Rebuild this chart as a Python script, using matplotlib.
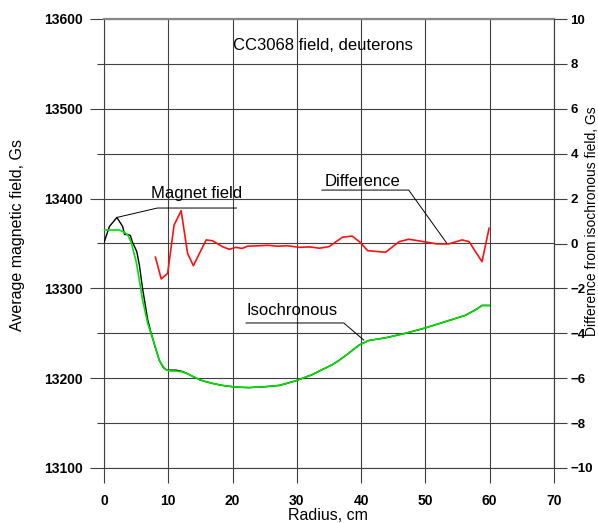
import matplotlib
matplotlib.use("Agg")
import matplotlib.pyplot as plt
from matplotlib.ticker import MultipleLocator

plt.rcParams['font.family'] = ['Liberation Sans', 'DejaVu Sans']

# ---- data ----
r_mag = [0, 0.85, 2.0, 2.9, 3.2, 3.7, 4.1, 4.4, 5.1, 5.5, 6.0, 6.8, 7.3, 8.0, 8.6, 9.2,
         9.75, 10.5, 11.2, 12.2, 13.0, 13.8, 15.0, 15.9, 17.0, 18.4, 20.0, 21.0, 22.5,
         23.6, 25.0, 27.3, 29.8, 32.4, 33.5, 35.5, 36.6, 38.1, 39.7, 41.2, 43.8, 46.9,
         50.0, 53.1, 56.2, 58.0, 58.8, 59.9]
B_mag = [13351, 13369, 13379, 13369, 13360, 13360, 13359, 13352, 13341, 13326, 13300,
         13265, 13251, 13234, 13220, 13212, 13209, 13209, 13209, 13207.5, 13205, 13202,
         13198, 13196, 13194, 13192, 13190.5, 13190, 13189.5, 13190, 13190.5, 13192,
         13197, 13204, 13208, 13215, 13220, 13228, 13237, 13242, 13245, 13250, 13256,
         13263, 13270, 13277, 13281, 13281]

r_iso = [0, 1, 2.4, 3.0, 3.7, 4.2, 5.0, 5.5, 6.0, 6.8, 7.3, 8.0, 8.6, 9.2, 9.75, 10.5,
         11.2, 12.2, 13.0, 13.8, 15.0, 15.9, 17.0, 18.4, 20.0, 21.0, 22.5, 23.6, 25.0,
         27.3, 29.8, 32.4, 33.5, 35.5, 36.6, 38.1, 39.7, 41.2, 43.8, 46.9, 50.0, 53.1,
         56.2, 58.0, 58.8, 59.9]
B_iso = [13365, 13365, 13365, 13363, 13359.5, 13352, 13330, 13309, 13287, 13261, 13250,
         13234, 13220, 13213, 13209, 13208, 13208, 13207, 13205, 13202, 13198, 13196,
         13194, 13192, 13190.5, 13190, 13189.5, 13190, 13190.5, 13192, 13197, 13204,
         13208, 13215, 13220, 13228, 13237, 13242, 13245, 13250, 13256, 13263, 13270,
         13277, 13281, 13281]

r_diff = [8.0, 8.9, 9.9, 10.9, 12.0, 13.0, 13.9, 15.0, 15.9, 16.9, 18.4, 19.5, 20.5,
          21.5, 22.3, 23.1, 24.1, 25.5, 27.0, 28.5, 30.4, 32.0, 33.5, 35.0, 37.1, 38.6,
          39.9, 41.0, 43.8, 45.9, 47.4, 49.8, 51.8, 53.6, 55.7, 56.8, 57.8, 58.8, 59.9]
d_diff = [-0.61, -1.58, -1.33, 0.82, 1.46, -0.44, -0.99, -0.35, 0.16, 0.12, -0.14,
          -0.26, -0.17, -0.22, -0.12, -0.11, -0.10, -0.08, -0.12, -0.10, -0.17, -0.15,
          -0.21, -0.14, 0.28, 0.33, 0.04, -0.32, -0.39, 0.08, 0.19, 0.08, -0.02, -0.02,
          0.16, 0.08, -0.37, -0.81, 0.68]

x_ticks = [0, 10, 20, 30, 40, 50, 60, 70]
y_left_ticks = [13100, 13200, 13300, 13400, 13500, 13600]
y_right_ticks = [-10, -8, -6, -4, -2, 0, 2, 4, 6, 8, 10]

title = "CC3068 field, deuterons"
xlabel = "Radius, cm"
ylabel_left = "Average magnetic field, Gs"
ylabel_right = "Difference from isochronous field, Gs"

W, H = 598, 523
fig = plt.figure(figsize=(W / 100, H / 100), dpi=100)
L, R, T, B = 104, 554, 19, 468
ax = fig.add_axes([L / W, 1 - B / H, (R - L) / W, (B - T) / H])

gc = '#404040'
ax.set_xlim(0, 70)
ax.set_ylim(13100, 13600)
ax.set_xticks(x_ticks)
ax.set_yticks(y_left_ticks)
ax.yaxis.set_minor_locator(MultipleLocator(50))
ax.grid(axis='x', which='major', color=gc, lw=0.8)
ax.grid(axis='y', which='both', color=gc, lw=0.8)
ax.set_axisbelow(True)
for s in ax.spines.values():
    s.set_color(gc)
    s.set_linewidth(0.8)
ax.spines['top'].set_color('#888888')
ax.spines['top'].set_linewidth(1.6)

ax.tick_params(axis='y', which='major', direction='out', length=10, width=0.8,
               color=gc, pad=5.5, labelsize=10)
ax.tick_params(axis='y', which='minor', direction='out', length=5, width=0.8, color=gc)
ax.tick_params(axis='x', which='major', direction='out', length=10.8, width=0.8,
               color=gc, pad=8, labelsize=10)
for lab in ax.get_xticklabels() + ax.get_yticklabels():
    lab.set_fontweight('bold')

ax.plot(r_mag, B_mag, color='black', lw=1.0, zorder=3)
ax.plot(r_iso, B_iso, color='#00e000', lw=1.2, zorder=4)

ax2 = ax.twinx()
ax2.set_ylim(-10, 10)
ax2.set_yticks(y_right_ticks)
ax2.tick_params(axis='y', direction='out', length=9.4, width=0.8, color=gc,
                pad=2.5, labelsize=9.5)
for lab in ax2.get_yticklabels():
    lab.set_fontweight('bold')
for s in ax2.spines.values():
    s.set_visible(False)
ax2.spines['right'].set_visible(True)
ax2.spines['right'].set_color(gc)
ax2.spines['right'].set_linewidth(0.8)

ax2.plot(r_diff, d_diff, color='#ff1010', lw=1.2, zorder=3)

# annotations (label, underline, leader)
lw_a = 0.7
ax.text(14.4, 13400.7, "Magnet field", fontsize=12, ha='center', va='baseline')
ax.plot([2.0, 8.3, 20.6], [13379, 13389.5, 13389.5], color='black', lw=lw_a, zorder=5)

ax.text(29.3, 13270.4, "Isochronous", fontsize=12, ha='center', va='baseline')
ax.plot([22.1, 37.3, 40.4], [13261.5, 13261.5, 13242.5], color='black', lw=lw_a, zorder=5)

ax2.text(40.2, 2.56, "Difference", fontsize=12, ha='center', va='baseline')
ax2.plot([33.9, 47.4, 53.3], [2.38, 2.38, 0.02], color='black', lw=lw_a, zorder=5)

fig.text(323 / W, 1 - 50 / H, title, fontsize=12, ha='center', va='baseline')
fig.text(328 / W, 1 - 516 / H, xlabel, fontsize=11.5, ha='center', va='center')
fig.text(18 / W, 1 - 235 / H, ylabel_left, fontsize=11.5, ha='center', va='center',
         rotation=90)
fig.text(592 / W, 1 - 221 / H, ylabel_right, fontsize=10, ha='center', va='center',
         rotation=90)

fig.savefig("out.png", dpi=100, facecolor='white')
